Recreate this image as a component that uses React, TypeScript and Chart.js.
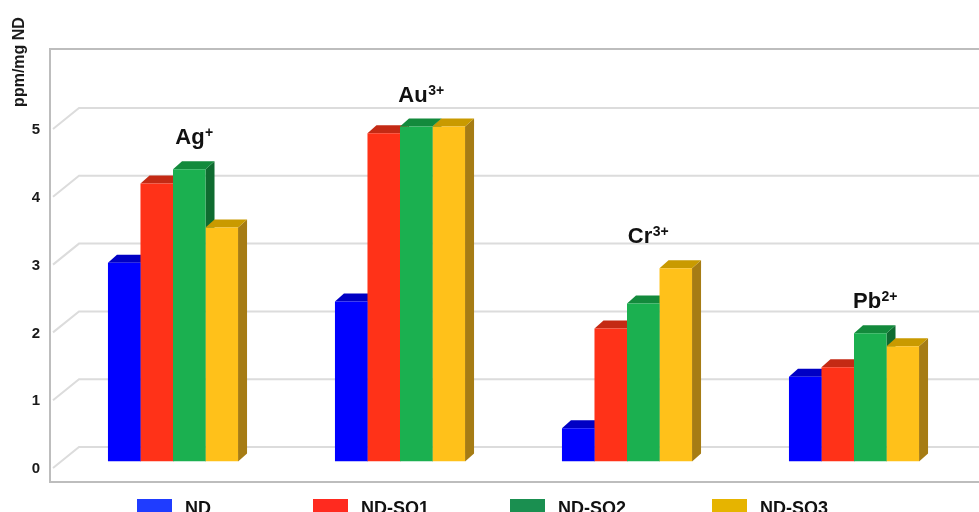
import React, { useEffect, useRef } from "react";
import { Chart, registerables } from "chart.js";

Chart.register(...registerables);

// Metal ions (name + charge shown as superscript)
const ionNames = ["Ag", "Au", "Cr", "Pb"];
const ionCharges = ["+", "3+", "3+", "2+"];

// Adsorbed amount, ppm per mg of ND
const seriesLabels = ["ND", "ND-SQ1", "ND-SQ2", "ND-SQ3"];
const ndValues = [2.93, 2.36, 0.49, 1.25];
const sq1Values = [4.1, 4.84, 1.96, 1.39];
const sq2Values = [4.31, 4.94, 2.33, 1.89];
const sq3Values = [3.45, 4.94, 2.85, 1.7];

const yTicks = [0, 1, 2, 3, 4, 5];

// Colours: front face, top face, side face, legend swatch
const frontColors = ["#0000ff", "#ff3218", "#1bb050", "#ffc11a"];
const topColors = ["#0000c4", "#c42a14", "#138a3c", "#c99a00"];
const sideColors = ["#00009c", "#a82010", "#0f6b30", "#a67c14"];
const legendColors = ["#1f3cff", "#ff2a1f", "#1a8f50", "#e6b400"];

const FONT = "Arial, 'Liberation Sans', sans-serif";

// Oblique depth of each bar, and offsets of the back wall / front edge
const BAR_DX = 9;
const BAR_DY = 8;
const BACK_DY = 14.5;
const BACK_DX = 19.5;
const FRONT_DY = 6.5;
const FRONT_DX = 6.5;

const scene3d = {
  id: "scene3d",
  beforeDatasetsDraw(chart: any) {
    const { ctx, chartArea, scales } = chart;
    const y = scales.y;
    ctx.save();

    // outer frame
    ctx.strokeStyle = "#bdbdbd";
    ctx.lineWidth = 2;
    ctx.beginPath();
    ctx.moveTo(chart.width + 2, 49);
    ctx.lineTo(50, 49);
    ctx.lineTo(50, 482);
    ctx.lineTo(chart.width + 2, 482);
    ctx.stroke();

    // grid on the back wall with slanted floor ticks
    ctx.strokeStyle = "#dcdcdc";
    ctx.lineWidth = 2;
    yTicks.forEach((v) => {
      const py = y.getPixelForValue(v);
      ctx.beginPath();
      ctx.moveTo(chartArea.left - FRONT_DX, py + FRONT_DY);
      ctx.lineTo(chartArea.left + BACK_DX, py - BACK_DY);
      ctx.lineTo(chart.width + 2, py - BACK_DY);
      ctx.stroke();
    });

    // tick labels at the front edge
    ctx.fillStyle = "#1a1a1a";
    ctx.font = `bold 15px ${FONT}`;
    ctx.textAlign = "right";
    ctx.textBaseline = "middle";
    yTicks.forEach((v) => {
      const py = y.getPixelForValue(v);
      ctx.fillText(String(v), 40, py + FRONT_DY + 1);
    });

    // axis title
    ctx.save();
    ctx.translate(20, 62);
    ctx.rotate(-Math.PI / 2);
    ctx.textAlign = "center";
    ctx.textBaseline = "middle";
    ctx.font = `bold 16px ${FONT}`;
    ctx.fillText("ppm/mg ND", 0, 0);
    ctx.restore();

    // side and top faces of the bars, left to right within each group
    const metas = chart.data.datasets.map((_: any, i: number) => chart.getDatasetMeta(i));
    for (let c = 0; c < ionNames.length; c++) {
      metas.forEach((meta: any, d: number) => {
        const bar = meta.data[c];
        if (!bar) return;
        const { x, y: top, base, width } = bar.getProps(["x", "y", "base", "width"], true);
        const l = x - width / 2;
        const r = x + width / 2;
        ctx.fillStyle = sideColors[d];
        ctx.beginPath();
        ctx.moveTo(r, top);
        ctx.lineTo(r + BAR_DX, top - BAR_DY);
        ctx.lineTo(r + BAR_DX, base - BAR_DY);
        ctx.lineTo(r, base);
        ctx.closePath();
        ctx.fill();
        ctx.fillStyle = topColors[d];
        ctx.beginPath();
        ctx.moveTo(l, top);
        ctx.lineTo(r, top);
        ctx.lineTo(r + BAR_DX, top - BAR_DY);
        ctx.lineTo(l + BAR_DX, top - BAR_DY);
        ctx.closePath();
        ctx.fill();
      });
    }
    ctx.restore();
  },
  afterDatasetsDraw(chart: any) {
    const { ctx } = chart;
    ctx.save();

    // ion labels above each group
    const metas = chart.data.datasets.map((_: any, i: number) => chart.getDatasetMeta(i));
    for (let c = 0; c < ionNames.length; c++) {
      let minTop = Infinity;
      let left = Infinity;
      let right = -Infinity;
      metas.forEach((meta: any) => {
        const bar = meta.data[c];
        const { x, y: top, width } = bar.getProps(["x", "y", "width"], true);
        minTop = Math.min(minTop, top);
        left = Math.min(left, x - width / 2);
        right = Math.max(right, x + width / 2);
      });
      const cx = (left + right) / 2 + 21;
      const baseY = minTop - BAR_DY - 17;
      ctx.fillStyle = "#111";
      ctx.textBaseline = "alphabetic";
      ctx.textAlign = "left";
      ctx.font = `bold 22px ${FONT}`;
      const wMain = ctx.measureText(ionNames[c]).width;
      ctx.font = `bold 14px ${FONT}`;
      const wSup = ctx.measureText(ionCharges[c]).width;
      const x0 = cx - (wMain + wSup) / 2;
      ctx.font = `bold 22px ${FONT}`;
      ctx.fillText(ionNames[c], x0, baseY);
      ctx.font = `bold 14px ${FONT}`;
      ctx.fillText(ionCharges[c], x0 + wMain + 0.5, baseY - 7);
    }

    // legend along the bottom edge
    const legendX = [137, 313, 510, 712];
    ctx.font = `bold 18px ${FONT}`;
    ctx.textBaseline = "alphabetic";
    seriesLabels.forEach((label, i) => {
      ctx.fillStyle = legendColors[i];
      ctx.fillRect(legendX[i], 499, 35, 16);
      ctx.fillStyle = "#111";
      ctx.fillText(label, legendX[i] + 48, 513.5);
    });
    ctx.restore();
  },
};

export default function App() {
  const canvasRef = useRef<HTMLCanvasElement | null>(null);

  useEffect(() => {
    document.body.style.margin = "0";
    document.body.style.overflow = "hidden";
    const canvas = canvasRef.current;
    if (!canvas) return;
    const series = [ndValues, sq1Values, sq2Values, sq3Values];
    const chart = new Chart(canvas, {
      type: "bar",
      data: {
        labels: ionNames.map((n, i) => n + ionCharges[i]),
        datasets: series.map((values, i) => ({
          label: seriesLabels[i],
          data: values,
          backgroundColor: frontColors[i],
          borderWidth: 0,
          categoryPercentage: 0.573,
          barPercentage: 1,
        })),
      },
      options: {
        responsive: false,
        animation: false,
        devicePixelRatio: 1,
        layout: { padding: { left: 59.5, right: 11.5, top: 54.7, bottom: 50.5 } },
        plugins: {
          legend: { display: false },
          tooltip: { enabled: false },
        },
        scales: {
          x: { display: false },
          y: { display: false, min: 0, max: 6 },
        },
      },
      plugins: [scene3d],
    });
    return () => chart.destroy();
  }, []);

  return (
    <div style={{ width: 979, height: 512, background: "#fff" }}>
      <canvas ref={canvasRef} width={979} height={512} style={{ display: "block" }} />
    </div>
  );
}
